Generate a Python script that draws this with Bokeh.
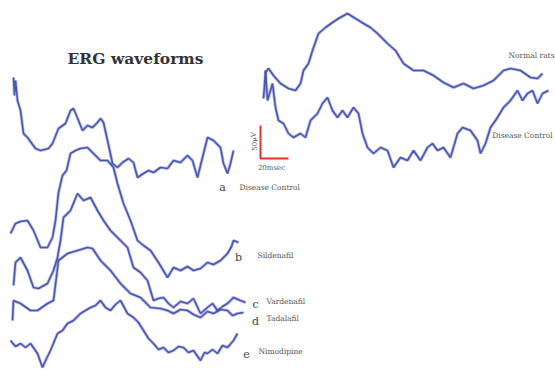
from bokeh.plotting import figure
from bokeh.models import Range1d, Label
from bokeh.embed import file_html
from bokeh.resources import INLINE

# ---- waveform samples (time-like x, deflection-like y) ----
a_x = [13, 14, 15, 17, 20, 23, 27, 35, 40, 48, 52, 58, 65, 70, 73, 78, 82, 87, 92, 97, 100, 103, 107, 112, 117,
       122, 128, 133, 137, 143, 148, 153, 160, 167, 173, 180, 187, 192, 197, 202, 207, 213, 220, 223, 227, 230, 233]
a_y = [77, 95, 80, 100, 110, 133, 137, 148, 150, 148, 143, 128, 123, 110, 108, 120, 130, 125, 127, 122, 118, 122,
       140, 163, 167, 162, 158, 162, 177, 173, 170, 172, 167, 168, 160, 162, 155, 160, 177, 157, 137, 140, 147, 163,
       173, 163, 150]

b_x = [10, 15, 20, 27, 33, 40, 47, 52, 55, 58, 62, 66, 70, 75, 80, 87, 93, 100, 107, 113, 117, 123, 130, 137, 143,
       150, 158, 167, 173, 180, 187, 193, 200, 207, 213, 220, 227, 231, 233, 238]
b_y = [233, 223, 221, 220, 230, 247, 247, 237, 220, 192, 175, 170, 153, 150, 148, 147, 153, 160, 160, 167, 183,
       203, 220, 240, 245, 250, 262, 277, 267, 270, 266, 270, 268, 262, 264, 260, 253, 246, 240, 242]

c_x = [13, 15, 20, 27, 33, 38, 47, 53, 57, 60, 63, 70, 77, 83, 90, 97, 103, 110, 117, 123, 127, 133, 140, 147,
       153, 158, 163, 168, 173, 180, 187, 193, 200, 207, 212, 217, 222, 227, 233, 240, 245]
c_y = [285, 262, 257, 270, 287, 288, 283, 270, 257, 240, 217, 210, 193, 200, 197, 210, 220, 230, 237, 243, 247,
       267, 272, 280, 300, 298, 297, 303, 307, 301, 303, 298, 313, 307, 303, 310, 306, 303, 297, 300, 302]

d_x = [12, 13, 20, 30, 37, 47, 53, 58, 67, 77, 87, 92, 100, 110, 120, 130, 140, 150, 160, 167, 173, 180, 187, 193,
       200, 207, 213, 220, 227, 232, 237, 243]
d_y = [320, 300, 303, 310, 310, 303, 300, 260, 253, 250, 247, 248, 260, 270, 283, 293, 297, 307, 308, 310, 313,
       309, 310, 314, 317, 311, 313, 309, 310, 315, 313, 312]

e_x = [10, 15, 20, 25, 30, 37, 42, 46, 50, 57, 62, 67, 73, 80, 85, 90, 95, 100, 105, 110, 115, 120, 127, 133,
       138, 143, 148, 153, 158, 163, 168, 173, 178, 183, 188, 193, 200, 204, 207, 212, 217, 222, 227, 233, 237]
e_y = [340, 346, 343, 347, 343, 353, 367, 358, 350, 333, 330, 323, 320, 313, 310, 307, 305, 300, 307, 310, 304,
       300, 313, 317, 322, 330, 338, 343, 349, 347, 352, 350, 346, 347, 352, 350, 360, 352, 353, 349, 353, 345,
       347, 340, 333]

normal_x = [263, 265, 268, 273, 280, 288, 295, 300, 303, 308, 312, 318, 325, 332, 338, 347, 355, 363, 370, 377,
            387, 395, 403, 413, 423, 433, 443, 453, 463, 473, 483, 493, 503, 510, 520, 530, 537, 542]
normal_y = [98, 72, 68, 75, 83, 88, 90, 83, 70, 63, 50, 33, 27, 22, 18, 13, 18, 23, 27, 33, 43, 50, 63, 70, 70,
            75, 82, 87, 83, 88, 85, 80, 70, 68, 70, 77, 78, 73]

dc_x = [265, 267, 270, 272, 275, 278, 283, 288, 293, 300, 305, 310, 317, 322, 327, 332, 337, 342, 347, 353, 358,
        362, 367, 373, 380, 387, 393, 400, 407, 413, 420, 427, 432, 437, 443, 450, 457, 462, 470, 477, 480, 485,
        490, 497, 503, 510, 517, 522, 527, 532, 537, 542, 548]
dc_y = [70, 100, 90, 83, 107, 120, 123, 133, 137, 133, 137, 120, 113, 103, 97, 110, 117, 110, 117, 107, 113, 133,
        147, 153, 147, 150, 167, 157, 160, 150, 160, 147, 143, 150, 147, 157, 133, 127, 130, 140, 153, 143, 127,
        117, 107, 100, 90, 100, 93, 90, 103, 93, 90]

traces = [(a_x, a_y), (b_x, b_y), (c_x, c_y), (d_x, d_y), (e_x, e_y), (normal_x, normal_y), (dc_x, dc_y)]

trace_letters = ["a", "b", "c", "d", "e"]
trace_names = ["Disease Control", "Sildenafil", "Vardenafil", "Tadalafil", "Nimodipine"]
right_names = ["Normal rats", "Disease Control"]
title_text = "ERG waveforms"
scale_v_text = "50µV"
scale_h_text = "20msec"

BLUE = "#3c4aae"

p = figure(width=555, height=373, output_backend="svg", toolbar_location=None,
           x_range=Range1d(0, 555), y_range=Range1d(373, 0), min_border=0)
p.axis.visible = False
p.grid.visible = False
p.outline_line_color = None
p.background_fill_color = "white"
p.border_fill_color = "white"

for xs, ys in traces:
    p.line(xs, ys, line_color=BLUE, line_width=3.2, line_alpha=0.35)
    p.line(xs, ys, line_color=BLUE, line_width=1.6, line_alpha=0.9)

# title
p.add_layout(Label(x=135, y=58, text=title_text, text_font="DejaVu Serif", text_font_style="bold",
                   text_font_size="15.5px", text_color="#333333", text_align="center", text_baseline="middle"))

# scale bar
p.line([260, 260, 288], [125, 158, 158], line_color="#e8312a", line_width=2)
p.add_layout(Label(x=254, y=141, text=scale_v_text, angle=1.5708, text_font="DejaVu Serif",
                   text_font_size="7px", text_color="#555555", text_align="center", text_baseline="middle"))
p.add_layout(Label(x=271, y=167, text=scale_h_text, text_font="DejaVu Serif",
                   text_font_size="7px", text_color="#555555", text_align="center", text_baseline="middle"))

# left labels
letter_pos = [(222, 187), (238, 257), (255, 304), (255, 321), (246, 353)]
name_pos = [(239, 187), (257, 255), (266, 301), (266, 318), (258, 351)]
for (lx, ly), (nx, ny), letter, name in zip(letter_pos, name_pos, trace_letters, trace_names):
    p.add_layout(Label(x=lx, y=ly, text=letter, text_font="DejaVu Serif", text_font_size="11px",
                       text_color="#444444", text_align="center", text_baseline="middle"))
    p.add_layout(Label(x=nx, y=ny, text=name, text_font="DejaVu Serif", text_font_size="7.5px",
                       text_color="#555555", text_align="left", text_baseline="middle"))

# right labels
p.add_layout(Label(x=531, y=55, text=right_names[0], text_font="DejaVu Serif", text_font_size="7.5px",
                   text_color="#555555", text_align="center", text_baseline="middle"))
p.add_layout(Label(x=522, y=135, text=right_names[1], text_font="DejaVu Serif", text_font_size="7.5px",
                   text_color="#555555", text_align="center", text_baseline="middle"))

open("out.html", "w").write(file_html(p, INLINE))
